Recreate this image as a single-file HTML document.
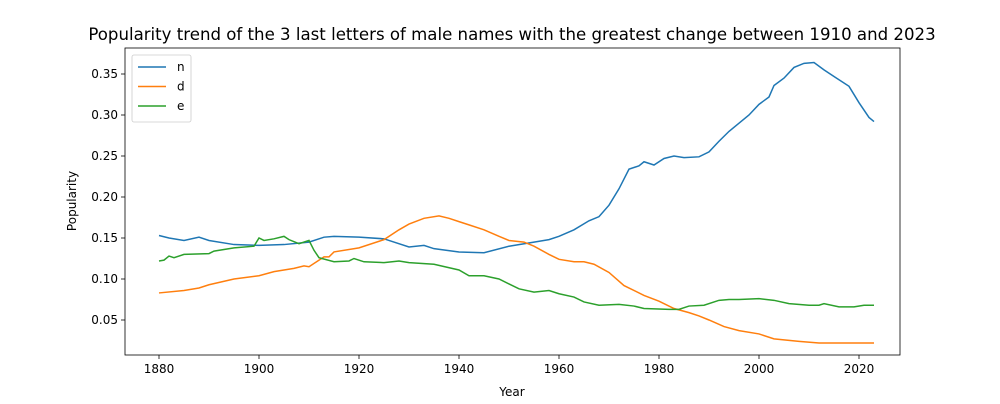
<!DOCTYPE html>
<html><head><meta charset="utf-8"><style>
body{margin:0;background:#fff;font-family:"DejaVu Sans","Liberation Sans",sans-serif;}
svg text{font-family:"DejaVu Sans","Liberation Sans",sans-serif;}
</style></head><body>
<svg id="chart" width="1000" height="400" xmlns="http://www.w3.org/2000/svg"></svg>
<script>
const nYears=[1880,1882,1885,1888,1890,1895,1900,1905,1910,1913,1915,1920,1925,1930,1933,1935,1940,1945,1950,1955,1958,1960,1963,1966,1968,1970,1972,1974,1976,1977,1979,1981,1983,1985,1988,1990,1992,1994,1996,1998,2000,2002,2003,2005,2007,2009,2011,2013,2015,2018,2020,2022,2023];
const nVals=[.153,.150,.147,.151,.147,.142,.141,.142,.145,.151,.152,.151,.149,.139,.141,.137,.133,.132,.140,.145,.148,.152,.160,.171,.176,.190,.210,.234,.238,.243,.239,.247,.250,.248,.249,.255,.268,.280,.290,.300,.313,.322,.336,.345,.358,.363,.364,.355,.347,.335,.315,.297,.292];
const dYears=[1880,1885,1888,1890,1895,1900,1903,1907,1909,1910,1913,1914,1915,1920,1925,1928,1930,1933,1936,1938,1940,1942,1945,1948,1950,1953,1955,1958,1960,1963,1965,1967,1970,1973,1977,1980,1983,1986,1988,1990,1993,1996,2000,2003,2008,2012,2020,2023];
const dVals=[.083,.086,.089,.093,.100,.104,.109,.113,.116,.115,.127,.127,.133,.138,.148,.160,.167,.174,.177,.174,.170,.166,.160,.152,.147,.145,.140,.130,.124,.121,.121,.118,.108,.092,.080,.073,.064,.059,.055,.050,.042,.037,.033,.027,.024,.022,.022,.022];
const eYears=[1880,1881,1882,1883,1885,1890,1891,1895,1899,1900,1901,1903,1905,1906,1908,1910,1911,1912,1915,1918,1919,1921,1925,1928,1930,1935,1940,1942,1945,1948,1950,1952,1955,1958,1960,1963,1965,1968,1972,1975,1977,1982,1984,1986,1989,1992,1994,1996,2000,2003,2006,2010,2012,2013,2016,2019,2021,2023];
const eVals=[.122,.123,.128,.126,.130,.131,.134,.138,.140,.150,.147,.149,.152,.148,.143,.147,.135,.126,.121,.122,.125,.121,.120,.122,.120,.118,.111,.104,.104,.100,.094,.088,.084,.086,.082,.078,.072,.068,.069,.067,.064,.063,.063,.067,.068,.074,.075,.075,.076,.074,.070,.068,.068,.070,.066,.066,.068,.068];
const xTicks=[1880,1900,1920,1940,1960,1980,2000,2020];
const yTicks=[0.05,0.10,0.15,0.20,0.25,0.30,0.35];
const L=125,R=900,T=48,B=355;
const x=v=>159+(v-1880)*5;
const y=v=>279-(v-0.10)*820;
const svg=document.getElementById('chart');
const NS='http://www.w3.org/2000/svg';
function mk(t,a,p){const e=document.createElementNS(NS,t);for(const k in a)e.setAttribute(k,a[k]);(p||svg).appendChild(e);return e;}
let e;
e=mk('text',{x:512,y:40,'text-anchor':'middle','font-size':16.6,fill:'#000'});e.textContent='Popularity trend of the 3 last letters of male names with the greatest change between 1910 and 2023';


xTicks.forEach(v=>{
 const l=mk('line',{x1:x(v),x2:x(v),y1:B,y2:B+4,stroke:'#000','stroke-width':0.8});
 
 
 const t=mk('text',{x:x(v),y:B+18,'text-anchor':'middle','font-size':12});t.textContent=v;
 
 
});
yTicks.forEach(v=>{
 const l=mk('line',{x1:L-4,x2:L,y1:y(v),y2:y(v),stroke:'#000','stroke-width':0.8});
 
 
 const t=mk('text',{x:L-7,y:y(v)+4,'text-anchor':'end','font-size':12});t.textContent=v.toFixed(2);
 
 
});
e=mk('text',{x:512,y:396,'text-anchor':'middle','font-size':12});e.textContent='Year';


e=mk('text',{x:76,y:201,'text-anchor':'middle','font-size':12,transform:'rotate(-90 76 201)'});e.textContent='Popularity';


const series=[['n',nYears,nVals,'#1f77b4'],['d',dYears,dVals,'#ff7f0e'],['e',eYears,eVals,'#2ca02c']];
series.forEach(s=>{
 const p=mk('polyline',{points:s[1].map((yr,i)=>x(yr)+','+y(s[2][i])).join(' '),fill:'none',stroke:s[3],'stroke-width':1.5});
 
 
});
e=mk('rect',{x:L,y:T,width:R-L,height:B-T,fill:'none',stroke:'#000','stroke-width':0.8});


const lg=mk('g',{});


mk('rect',{x:132,y:55,width:59,height:67,rx:2,fill:'#fff',stroke:'#ccc','stroke-width':0.8},lg);
series.forEach((s,i)=>{
 const yy=67+i*19.5;
 const l=mk('line',{x1:138,x2:166,y1:yy,y2:yy,stroke:s[3],'stroke-width':1.5},lg);
 
 
 const t=mk('text',{x:177,y:yy+4,'font-size':12},lg);t.textContent=s[0];
 
 
});
</script>
</body></html>
